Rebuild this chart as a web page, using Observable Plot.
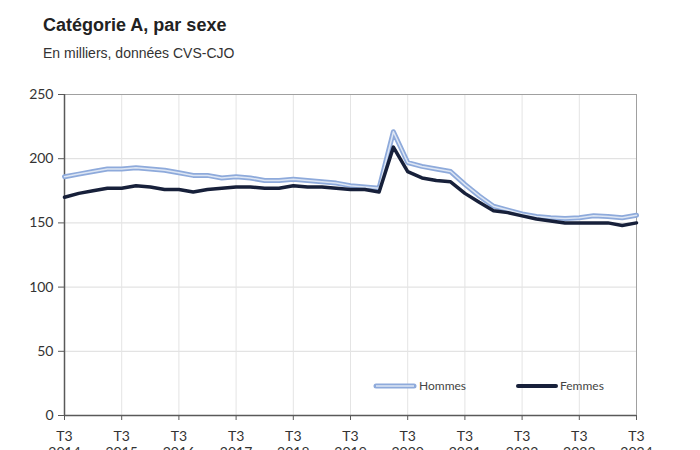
<!DOCTYPE html>
<html><head><meta charset="utf-8">
<script src="https://cdn.jsdelivr.net/npm/d3@7"></script>
<script src="https://cdn.jsdelivr.net/npm/@observablehq/plot@0.6"></script>
<style>
html,body{margin:0;padding:0;background:#fff;overflow:hidden;width:700px;height:450px}
#title{position:absolute;left:43px;top:15px;font:bold 18px/20px "Liberation Sans",Arial,sans-serif;color:#222;white-space:nowrap}
#sub{position:absolute;left:43px;top:45px;font:14px/16px "Liberation Sans",Arial,sans-serif;color:#333;white-space:nowrap}
#chart{position:absolute;left:0;top:0}
.leg{position:absolute;font:12px/14px Lato,sans-serif;color:#444;white-space:nowrap}
.sw{position:absolute}
</style></head>
<body>
<div id="chart"></div>
<div id="title">Catégorie A, par sexe</div>
<div id="sub">En milliers, données CVS-CJO</div>
<svg class="sw" style="left:372px;top:382px" width="46" height="8"><line x1="4" y1="4" x2="42" y2="4" stroke="#8eaadb" stroke-width="5" stroke-linecap="round"/><line x1="4" y1="4" x2="42" y2="4" stroke="#dde6f4" stroke-width="1.5"/></svg>
<div class="leg" style="left:419px;top:379px">Hommes</div>
<svg class="sw" style="left:514px;top:382px" width="46" height="8"><line x1="4" y1="4" x2="42" y2="4" stroke="#17203a" stroke-width="4" stroke-linecap="round"/></svg>
<div class="leg" style="left:560px;top:379px">Femmes</div>
<script>
const quarters = [
 "2014T3","2014T4",
 "2015T1","2015T2","2015T3","2015T4",
 "2016T1","2016T2","2016T3","2016T4",
 "2017T1","2017T2","2017T3","2017T4",
 "2018T1","2018T2","2018T3","2018T4",
 "2019T1","2019T2","2019T3","2019T4",
 "2020T1","2020T2","2020T3","2020T4",
 "2021T1","2021T2","2021T3","2021T4",
 "2022T1","2022T2","2022T3","2022T4",
 "2023T1","2023T2","2023T3","2023T4",
 "2024T1","2024T2","2024T3"
];
const hommes = [
 186,188,190,192,192,193,192,191,189,187,
 187,185,186,185,183,183,184,183,182,181,
 179,178,177,221,197,194,192,190,180,171,
 163,160,157,155,154,153.5,154,155.5,155,154,
 156
];
const femmes = [
 170,173,175,177,177,179,178,176,176,174,
 176,177,178,178,177,177,179,178,178,177,
 176,176,174,209,190,185,183,182,173,166,
 159.5,158,155.5,153,151.5,150,150,150,150,148,
 150
];
const xTickLabels = ["2014T3","2015T3","2016T3","2017T3","2018T3","2019T3","2020T3","2021T3","2022T3","2023T3","2024T3"];
const yTicks = [0,50,100,150,200,250];

const xTicks = xTickLabels.map(q => quarters.indexOf(q));
const hData = quarters.map((q,i)=>({i, v:hommes[i]}));
const fData = quarters.map((q,i)=>({i, v:femmes[i]}));

const chart = Plot.plot({
  width:700, height:470,
  marginTop:94, marginBottom:55, marginLeft:64, marginRight:64,
  x:{domain:[0, quarters.length-1]},
  y:{domain:[0,250]},
  style:{fontFamily:"Lato, sans-serif", fontSize:"14px", color:"#333", background:"transparent"},
  marks:[
    Plot.gridY(yTicks,{stroke:"#dcdcdc", strokeOpacity:1}),
    Plot.gridX(xTicks,{stroke:"#e4e4e4", strokeOpacity:1}),
    Plot.frame({stroke:"#a0a0a0"}),
    Plot.ruleX([0],{stroke:"#595959", strokeWidth:1.5}),
    Plot.ruleY([0],{stroke:"#595959", strokeWidth:1.5}),
    Plot.axisY(yTicks,{tickSize:6, tickPadding:5, label:null, stroke:"#595959", fill:"#333"}),
    Plot.axisX(xTicks,{tickSize:5, tickPadding:10, label:null, stroke:"#595959", fill:"#333",
      tickFormat:i=>"T3\n"+quarters[i].slice(0,4), lineHeight:1.1}),
    Plot.line(hData,{x:"i", y:"v", stroke:"#8eaadb", strokeWidth:5, strokeLinejoin:"round"}),
    Plot.line(hData,{x:"i", y:"v", stroke:"#dde6f4", strokeWidth:1.5, strokeLinejoin:"round"}),
    Plot.line(fData,{x:"i", y:"v", stroke:"#17203a", strokeWidth:3.5, strokeLinejoin:"round"})
  ]
});
document.getElementById("chart").appendChild(chart);
</script>
</body></html>
